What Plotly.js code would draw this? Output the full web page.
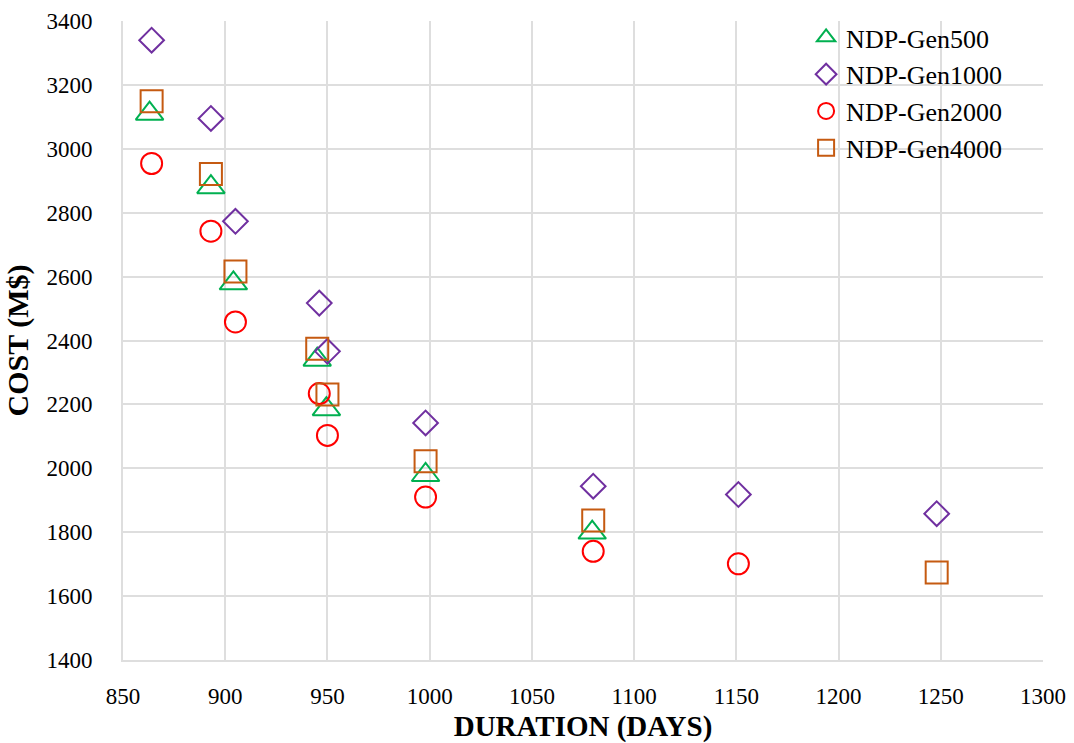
<!DOCTYPE html>
<html>
<head>
<meta charset="utf-8">
<script src="https://cdn.plot.ly/plotly-3.0.1.min.js"></script>
<style>
  html, body { margin: 0; padding: 0; background: #ffffff; }
  #chart { width: 1074px; height: 743px; }
</style>
</head>
<body>
<div id="chart"></div>
<script>
// Cost vs. duration for the NDP generations
const gen500X  = [863, 893, 904, 945, 949.5, 998, 1079.5];
const gen500Y  = [3110, 2880, 2579, 2340, 2185, 1979, 1799];

const gen1000X = [864, 893, 905, 946, 950, 998, 1080, 1151, 1248];
const gen1000Y = [3340, 3095, 2773, 2517, 2366, 2142, 1944, 1918, 1858];

const gen2000X = [864, 893, 905, 946, 950, 998, 1080, 1151];
const gen2000Y = [2954, 2742, 2458, 2234, 2103, 1910, 1740, 1701];

const gen4000X = [864, 893, 905, 945, 950, 998, 1080, 1248];
const gen4000Y = [3149, 2921, 2616, 2374, 2231, 2022, 1837, 1674];

const seriesNames = ['NDP-Gen500', 'NDP-Gen1000', 'NDP-Gen2000', 'NDP-Gen4000'];

const serif = '"Liberation Serif", serif';
const gridColor = '#dedede';

function series(name, xs, ys, symbol, size, color) {
  return {
    type: 'scatter',
    mode: 'markers',
    name: name,
    x: xs,
    y: ys,
    cliponaxis: false,
    marker: {
      symbol: symbol,
      size: size,
      color: color,
      line: { color: color, width: 2 }
    }
  };
}

const traces = [
  series(seriesNames[0], gen500X, gen500Y, 'triangle-up-open', 24, '#00b050'),
  series(seriesNames[1], gen1000X, gen1000Y, 'diamond-open', 19, '#7030a0'),
  series(seriesNames[2], gen2000X, gen2000Y, 'circle-open', 21, '#ff0000'),
  series(seriesNames[3], gen4000X, gen4000Y, 'square-open', 22, '#c55a11')
];

const layout = {
  width: 1074,
  height: 743,
  margin: { l: 123, r: 31, t: 21, b: 83, pad: 0 },
  paper_bgcolor: '#ffffff',
  plot_bgcolor: '#ffffff',
  font: { family: serif, color: '#000000' },
  showlegend: true,
  legend: {
    x: 0.7425,
    xanchor: 'left',
    y: 1.0110,
    yanchor: 'top',
    bgcolor: 'rgba(0,0,0,0)',
    borderwidth: 0,
    font: { family: serif, size: 26, color: '#000000' }
  },
  xaxis: {
    range: [850, 1300],
    dtick: 50,
    tick0: 850,
    showgrid: true,
    gridcolor: gridColor,
    gridwidth: 2,
    zeroline: false,
    showline: true,
    linecolor: gridColor,
    linewidth: 2,
    ticks: '',
    ticklabelstandoff: 14,
    tickfont: { family: serif, size: 23, color: '#000000' },
    title: {
      text: '<b>DURATION (DAYS)</b>',
      font: { family: serif, size: 29, color: '#000000' },
      standoff: 12
    }
  },
  yaxis: {
    range: [1400, 3400],
    dtick: 200,
    tick0: 1400,
    showgrid: true,
    gridcolor: gridColor,
    gridwidth: 2,
    zeroline: false,
    showline: true,
    linecolor: gridColor,
    linewidth: 2,
    ticks: '',
    ticklabelstandoff: 24,
    tickfont: { family: serif, size: 23, color: '#000000' },
    title: {
      text: '<b>COST (M$)</b>',
      font: { family: serif, size: 30, color: '#000000' },
      standoff: 9
    }
  }
};

Plotly.newPlot('chart', traces, layout, { displayModeBar: false, staticPlot: true });
</script>
</body>
</html>
